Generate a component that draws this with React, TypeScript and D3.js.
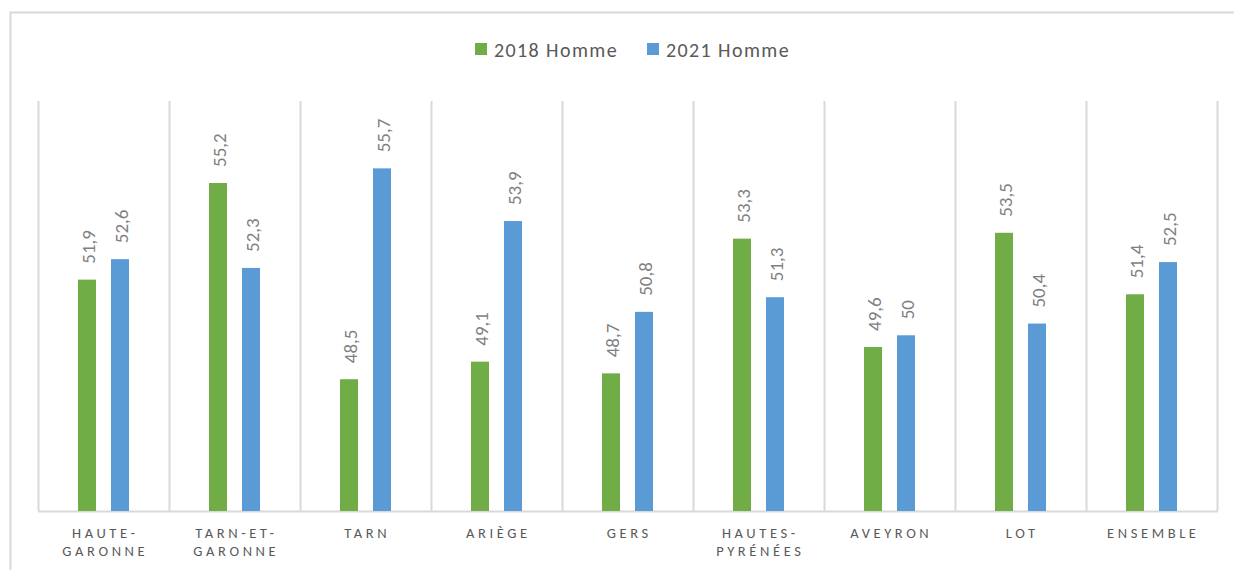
import React from "react";
import * as d3 from "d3";

const categories: string[][] = [
  ["HAUTE-", "GARONNE"],
  ["TARN-ET-", "GARONNE"],
  ["TARN"],
  ["ARIÈGE"],
  ["GERS"],
  ["HAUTES-", "PYRÉNÉES"],
  ["AVEYRON"],
  ["LOT"],
  ["ENSEMBLE"],
];
const series2018: number[] = [51.9, 55.2, 48.5, 49.1, 48.7, 53.3, 49.6, 53.5, 51.4];
const series2021: number[] = [52.6, 52.3, 55.7, 53.9, 50.8, 51.3, 50, 50.4, 52.5];
const seriesNames = ["2018 Homme", "2021 Homme"];
const colors = ["#70AD47", "#5B9BD5"];

const W = 1234, H = 570;
const left = 38, right = 1217, top = 101, bottom = 511;
const fmt = (v: number) => String(v).replace(".", ",");
const font = "Calibri, Carlito, Lato, 'Open Sans', 'Liberation Sans', sans-serif";

export default function App() {
  const idx = categories.map((_, i) => i);
  const x = d3.scaleBand<number>().domain(idx).range([left, right]).padding(0);
  const y = d3.scaleLinear().domain([44, 58]).range([bottom, top]);
  const bw = 18;
  const offsets = [-16.5, 16.5];
  const data = [series2018, series2021];
  return (
    <div style={{ position: "absolute", left: 0, top: 0 }}>
      <svg width={W} height={H} style={{ display: "block" }} fontFamily={font}>
        <rect x={0} y={0} width={W} height={H} fill="#fff" />
        <path d={`M10.5,${H} V12.5 H${W}`} fill="none" stroke="#d9d9d9" strokeWidth={2} />
        {d3.range(categories.length + 1).map((i) => {
          const gx = Math.round(left + i * x.bandwidth()) + 0.5;
          return <line key={i} x1={gx} x2={gx} y1={top} y2={bottom} stroke="#d9d9d9" strokeWidth={2} />;
        })}
        <line x1={left} x2={right + 1} y1={bottom + 0.5} y2={bottom + 0.5} stroke="#d9d9d9" strokeWidth={2} />
        {data.map((s, si) =>
          s.map((v, i) => {
            const cx = (x(i) as number) + x.bandwidth() / 2 + offsets[si];
            const yt = y(v);
            return (
              <g key={`${si}-${i}`}>
                <rect x={cx - bw / 2} y={yt} width={bw} height={bottom - yt} fill={colors[si]} />
                <text
                  transform={`translate(${cx + 7.5},${yt - 16}) rotate(-90)`}
                  fontSize={19}
                  fill="#7f7f7f"
                  textAnchor="start"
                >
                  {fmt(v)}
                </text>
              </g>
            );
          })
        )}
        {categories.map((lines, i) => {
          const cx = (x(i) as number) + x.bandwidth() / 2;
          return (
            <text key={i} x={cx} textAnchor="middle" fontSize={14.5} fill="#595959" letterSpacing={3.6}>
              {lines.map((l, j) => (
                <tspan key={j} x={cx + 1.8} y={538 + j * 18}>
                  {l}
                </tspan>
              ))}
            </text>
          );
        })}
        {seriesNames.map((n, i) => {
          const lx = [475, 647][i];
          return (
            <g key={n}>
              <rect x={lx} y={43} width={12} height={12} fill={colors[i]} />
              <text x={lx + 19} y={57} fontSize={20} fill="#595959" letterSpacing={1.4}>
                {n}
              </text>
            </g>
          );
        })}
      </svg>
    </div>
  );
}
